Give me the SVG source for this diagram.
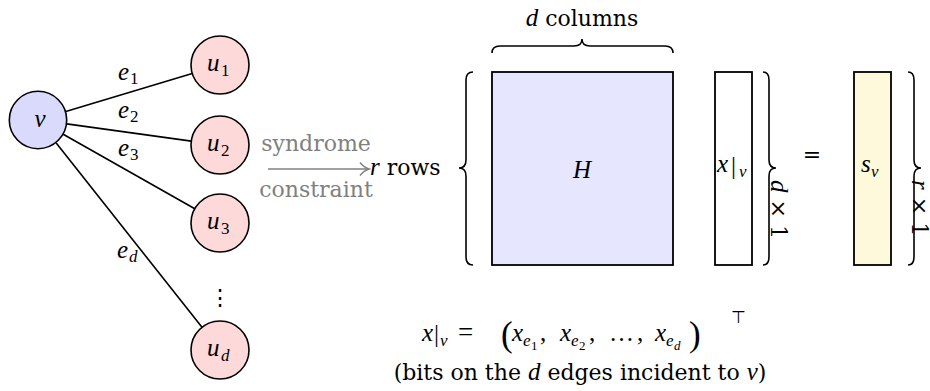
<svg xmlns="http://www.w3.org/2000/svg" width="930" height="391" viewBox="0 0 930 391">
<style>
.t{font-family:"DejaVu Serif","Liberation Serif",serif;font-size:22px;fill:#000}
.m{font-family:"Liberation Serif","Times New Roman",serif;font-style:italic;font-size:25px;fill:#000}
.i{font-family:"Liberation Serif","Times New Roman",serif;font-style:italic;font-size:25px}
.up{font-style:normal}
.s{font-size:17px}
.ss{font-size:13px}
.g{fill:#808080}
.edge{stroke:#000;stroke-width:1.6;fill:none}
.node{stroke:#000;stroke-width:1.6}
.vn{fill:#dadafc}
.un{fill:#fdd9d9}
.box{stroke:#000;stroke-width:1.8}
.brace{stroke:#000;stroke-width:1.6;fill:none}
</style>

<g id="connectors">
  <line class="edge" x1="65.8" y1="111.6" x2="192.2" y2="73.4"/>
  <line class="edge" x1="66.7" y1="123.9" x2="191.3" y2="141.1"/>
  <line class="edge" x1="63.2" y1="134.3" x2="194.8" y2="208.7"/>
  <line class="edge" x1="56" y1="142.7" x2="202" y2="327.3"/>
  <text class="m" x="118" y="80">e<tspan class="s up" x="130" y="84">1</tspan></text>
  <text class="m" x="118" y="118">e<tspan class="s up" x="130" y="122">2</tspan></text>
  <text class="m" x="118" y="156">e<tspan class="s up" x="130" y="160">3</tspan></text>
  <text class="m" x="117" y="258">e<tspan class="s" x="129" y="262">d</tspan></text>
  <g id="arrow">
    <line x1="268" y1="169" x2="368" y2="169" stroke="#808080" stroke-width="1.5"/>
    <path d="M360,162.5 Q364,167.5 369,169 Q364,170.5 360,175.5" stroke="#808080" stroke-width="1.5" fill="none"/>
    <text class="t g" x="316" y="151" text-anchor="middle">syndrome</text>
    <text class="t g" x="316" y="197" text-anchor="middle">constraint</text>
  </g>
</g>

<g id="node-v">
  <circle class="node vn" cx="38" cy="120" r="28.7"/>
  <text class="m" x="40" y="127" text-anchor="middle">v</text>
</g>
<g id="node-u1">
  <circle class="node un" cx="220" cy="65" r="29"/>
  <text class="m" x="207" y="71">u<tspan class="s up" x="221" y="76">1</tspan></text>
</g>
<g id="node-u2">
  <circle class="node un" cx="220" cy="145" r="29"/>
  <text class="m" x="207" y="151">u<tspan class="s up" x="221" y="156">2</tspan></text>
</g>
<g id="node-u3">
  <circle class="node un" cx="220" cy="223" r="29"/>
  <text class="m" x="207" y="229">u<tspan class="s up" x="221" y="234">3</tspan></text>
</g>
<g id="node-vdots">
  <text class="t" x="220" y="305" text-anchor="middle" font-size="33">⋮</text>
</g>
<g id="node-ud">
  <circle class="node un" cx="220" cy="350" r="29"/>
  <text class="m" x="207" y="356">u<tspan class="s" x="221" y="361">d</tspan></text>
</g>

<g id="label-rows">
  <text class="t" x="370" y="175"><tspan class="i">r</tspan> rows</text>
  <path class="brace" d="M473,72 Q466,72 466,80 L466,160 Q466,168 459,168 Q466,168 466,176 L466,257 Q466,265 473,265"/>
</g>

<g id="label-columns">
  <text class="t" x="582" y="26" text-anchor="middle"><tspan class="i">d</tspan> columns</text>
  <path class="brace" d="M492,53 Q492,46 500,46 L574,46 Q582,46 582,39 Q582,46 590,46 L665,46 Q673,46 673,53"/>
</g>

<g id="node-H">
  <rect class="box" x="492" y="72" width="181" height="193" fill="#e6e6ff"/>
  <text class="m" x="582" y="178" text-anchor="middle" font-size="30">H</text>
</g>

<g id="node-xv">
  <rect class="box" x="715" y="72" width="37" height="193" fill="#ffffff"/>
  <text class="m" x="717" y="172">x<tspan class="up" x="731" y="174">|</tspan><tspan class="s" x="739" y="177">v</tspan></text>
</g>
<g id="label-dx1">
  <path class="brace" d="M763,72 Q769,72 769,80 L769,160 Q769,168 776,168 Q769,168 769,176 L769,257 Q769,265 763,265"/>
  <text class="t" font-size="19" transform="translate(771,180) rotate(90)"><tspan class="i" font-size="21">d</tspan> × 1</text>
</g>

<g id="label-eq">
  <text class="t" x="812" y="162" text-anchor="middle" font-size="28">=</text>
</g>

<g id="node-sv">
  <rect class="box" x="854" y="72" width="37" height="193" fill="#fff9dc"/>
  <text class="m" x="861" y="172">s<tspan class="s" x="871" y="177">v</tspan></text>
</g>
<g id="label-rx1">
  <path class="brace" d="M908,72 Q914,72 914,80 L914,160 Q914,168 921,168 Q914,168 914,176 L914,257 Q914,265 908,265"/>
  <text class="t" font-size="12" transform="translate(912,180) rotate(90)"><tspan class="i" font-size="14">r</tspan> × 1</text>
</g>

<g id="formula">
  <text class="m" x="422" y="341">x<tspan class="up" x="434" y="342">|</tspan><tspan class="s" x="440" y="346">v</tspan><tspan class="up" x="458" y="341" font-size="27">=</tspan><tspan class="up" x="501" y="346" font-size="35">(</tspan><tspan x="512" y="341">x</tspan><tspan class="s" x="523" y="346">e</tspan><tspan class="ss up" x="531" y="350">1</tspan><tspan class="up" x="540" y="341">,</tspan><tspan x="560" y="341">x</tspan><tspan class="s" x="571" y="346">e</tspan><tspan class="ss up" x="579" y="350">2</tspan><tspan class="up" x="589" y="341">,</tspan><tspan class="up" x="609" y="341">…</tspan><tspan class="up" x="637" y="341">,</tspan><tspan x="655" y="341">x</tspan><tspan class="s" x="666" y="346">e</tspan><tspan class="ss" x="674" y="350">d</tspan><tspan class="up" x="689" y="346" font-size="35">)</tspan><tspan class="up s" x="731" y="323">⊤</tspan></text>
  <text class="t" x="580" y="380" text-anchor="middle" font-size="21">(bits on the <tspan class="i" font-size="23">d</tspan> edges incident to <tspan class="i" font-size="23">v</tspan>)</text>
</g>
</svg>
